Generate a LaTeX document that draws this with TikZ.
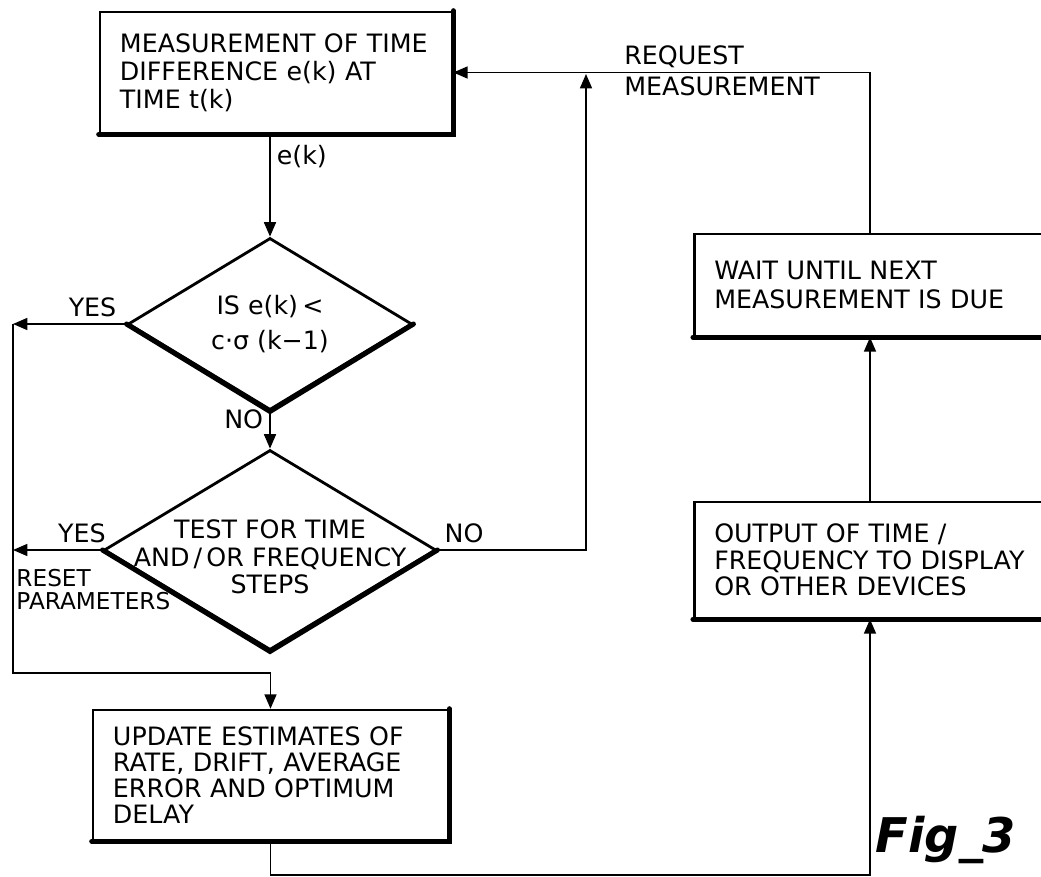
\documentclass[tikz,border=0pt]{standalone}
\usepackage{fontspec}
\setmainfont{DejaVu Sans}
\usetikzlibrary{shapes.geometric, arrows.meta, positioning}

\begin{document}
\begin{tikzpicture}[x=0.25mm, y=-0.25mm,
    txt/.style={font=\fontsize{18}{20}\selectfont, inner sep=1.5mm},
    box/.style={rectangle, draw, line width=1.8pt, align=left, inner xsep=5mm, font=\fontsize{18}{20}\selectfont},
    decision/.style={diamond, draw, line width=2pt, inner sep=0pt, align=center, font=\fontsize{18}{20}\selectfont},
    heavy/.style={line width=3.6pt, line cap=round},
    flow/.style={line width=1.2pt, -{Triangle[length=3.6mm, width=3mm]}}
  ]
  \useasboundingbox (0,0) rectangle (1041,877);

  \coordinate (rail) at (13,0);
  \coordinate (merge) at (13,673);
  \coordinate (riser) at (586,74);
  \coordinate (spine) at (870,0);
  \coordinate (corner) at (870,875);

  \node (meas) [box, minimum width=88mm, minimum height=30.25mm, text width=78mm] at (276,72.5) {MEASUREMENT OF TIME\\DIFFERENCE e(k) AT\\TIME t(k)};
  \node (chk) [decision, minimum width=71mm, minimum height=43mm, aspect=1.65, font=\fontsize{18}{25}\selectfont] at (270,324) {IS e(k)\,<\\c·σ (k−1)};
  \node (test) [decision, minimum width=83mm, minimum height=50mm] at (270,550) {};
  \node (testtxt) [txt, align=center, font=\fontsize{18}{19.5}\selectfont] at ([yshift=-1.75mm]test.center) {TEST FOR TIME\\AND\,/\,OR FREQUENCY\\STEPS};
  \node (reset) [txt, anchor=north west, align=left, inner sep=0.8mm, font=\fontsize{16.5}{16.5}\selectfont] at ([yshift=-4mm]test.west -| rail) {RESET\\PARAMETERS};
  \node (update) [box, minimum width=88.75mm, minimum height=32.5mm, text width=78.75mm, font=\fontsize{18}{18.5}\selectfont] at (270.5,775) {UPDATE ESTIMATES OF\\RATE, DRIFT, AVERAGE\\ERROR AND OPTIMUM\\DELAY};
  \node (wait) [box, anchor=west, minimum width=100mm, minimum height=25.5mm, text width=90mm, font=\fontsize{18}{20.5}\selectfont] at (693,285) {WAIT UNTIL NEXT\\MEASUREMENT IS DUE};
  \node (output) [box, anchor=west, minimum width=100mm, minimum height=29mm, text width=90mm, font=\fontsize{18}{19}\selectfont] at (693,560) {OUTPUT OF TIME /\\FREQUENCY TO DISPLAY\\OR OTHER DEVICES};
  \node (fig) [font=\fontsize{34}{34}\selectfont\bfseries\itshape] at (946,840) {Fig\_3};

  % heavier lower edges
  \foreach \b in {meas,update,wait,output}
    \draw[heavy] (\b.south west) -- (\b.south east) -- (\b.north east);
  \foreach \d in {chk,test}
    \draw[heavy] (\d.west) -- (\d.south) -- (\d.east);

  \draw[flow] (meas.south -| chk.north) -- node[txt, right, pos=0.22] {e(k)} (chk.north);
  \draw[flow] (chk.west) -- node[txt, above, pos=0.3] {YES} (chk.west -| rail);
  \draw[flow] (chk.south) -- node[txt, left, pos=0.2] {NO} (test.north);
  \draw[flow] (test.west) -- node[txt, above, pos=0.23] {YES} (test.west -| rail);
  \draw[flow] (chk.west -| rail) -- (merge) -| (update.north);
  \draw[flow] (test.east) -| node[txt, above, pos=0.09] {NO} (riser);
  \draw[flow] (wait.north -| spine) |- node[txt, pos=0.8, anchor=south west, inner sep=0.9mm] {REQUEST} node[txt, pos=0.8, anchor=north west, inner sep=0.9mm] {MEASUREMENT} (meas.east);
  \draw[flow] (output.north -| spine) -- (wait.south -| spine);
  \draw[flow] (update.south) |- (corner) -- (output.south -| corner);
\end{tikzpicture}
\end{document}
